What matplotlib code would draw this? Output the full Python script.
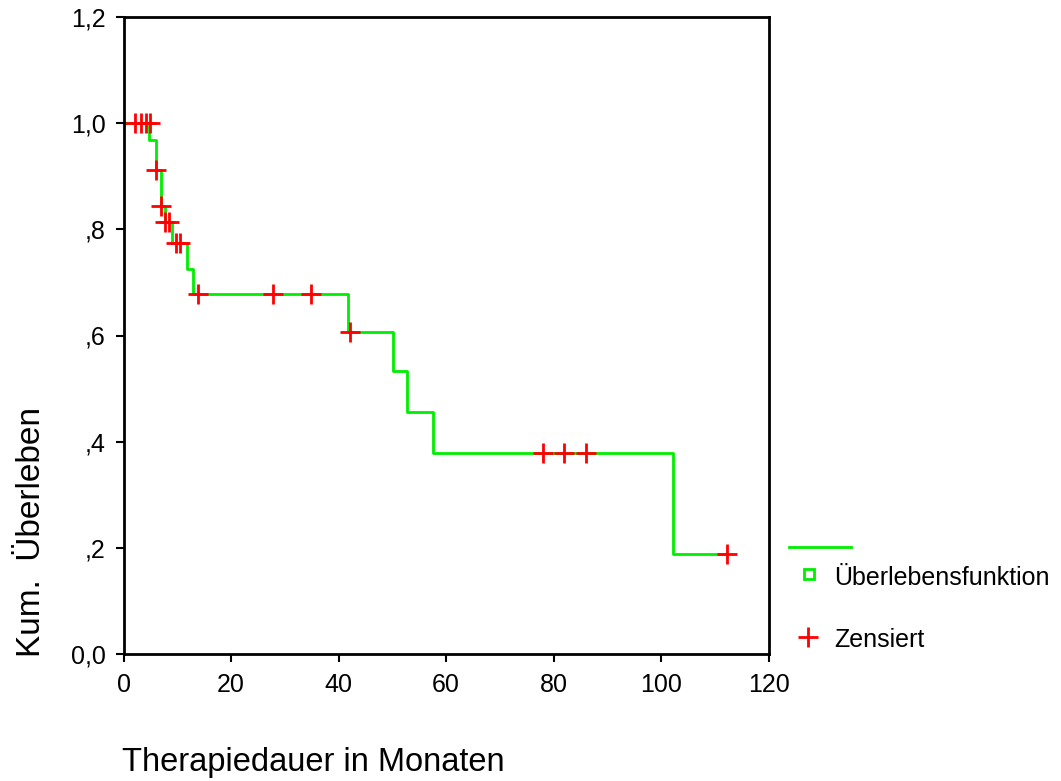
import matplotlib
matplotlib.use("Agg")
from matplotlib import pyplot as plt
from matplotlib.lines import Line2D

plt.rcParams["font.family"] = ["Liberation Sans", "DejaVu Sans"]

# Kaplan-Meier step function (time in months, cumulative survival)
step_times = [0, 4.7, 6.0, 6.9, 7.8, 9.0, 11.8, 13.0, 41.8, 50.2, 52.8, 57.6, 102.2, 112.2]
step_surv = [1.0, 0.969, 0.911, 0.844, 0.814, 0.775, 0.726, 0.679, 0.607, 0.534, 0.456, 0.379, 0.188, 0.188]

# censored observations
cens_times = [2.1, 3.2, 4.1, 5.0, 6.0, 6.9, 7.8, 8.4, 9.8, 10.6, 13.9, 27.8, 34.9, 42.2, 78.0, 82.0, 86.0, 112.2]
cens_surv = [1.0, 1.0, 1.0, 1.0, 0.911, 0.844, 0.814, 0.814, 0.775, 0.775, 0.679, 0.679, 0.679, 0.607,
             0.379, 0.379, 0.379, 0.188]

x_ticks = [0, 20, 40, 60, 80, 100, 120]
y_ticks = [0.0, 0.2, 0.4, 0.6, 0.8, 1.0, 1.2]
y_labels = ["0,0", ",2", ",4", ",6", ",8", "1,0", "1,2"]

W, H = 1061, 781
fig = plt.figure(figsize=(W / 100, H / 100), dpi=100)
ax = fig.add_axes([123.5 / W, 1 - 654 / H, (768.5 - 123.5) / W, (654 - 17) / H])

green = "#00ee00"
red = "#ff0000"

ax.plot(step_times, step_surv, drawstyle="steps-post", color=green, lw=2)
ax.plot(cens_times, cens_surv, ls="none", marker="+", ms=15, mew=2, color=red)

ax.set_xlim(0, 120)
ax.set_ylim(0, 1.2)
ax.set_xticks(x_ticks)
ax.set_xticklabels([str(t) for t in x_ticks])
ax.set_yticks(y_ticks)
ax.set_yticklabels(y_labels)
ax.tick_params(direction="out", length=6, width=1.5, labelsize=18)
ax.tick_params(axis="x", pad=8)
ax.tick_params(axis="y", pad=7)
for s in ax.spines.values():
    s.set_linewidth(2)

fig.text(313 / W, 1 - 762 / H, "Therapiedauer in Monaten", fontsize=23.5, ha="center", va="center")
fig.text(32 / W, 1 - 532 / H, "Kum.  Überleben", fontsize=24, rotation=90, ha="center", va="center")

# legend
fig.add_artist(Line2D([789 / W, 851 / W], [1 - 547 / H, 1 - 547 / H], color=green, lw=2,
                      transform=fig.transFigure))
fig.add_artist(Line2D([808.5 / W], [1 - 573.5 / H], ls="none", marker="s", ms=7, mew=2,
                      mec=green, mfc="white", transform=fig.transFigure))
fig.add_artist(Line2D([808 / W], [1 - 637 / H], ls="none", marker="+", ms=15, mew=2,
                      color=red, transform=fig.transFigure))
fig.text(834 / W, 1 - 578 / H, "Überlebensfunktion", fontsize=18, va="center")
fig.text(834 / W, 1 - 640 / H, "Zensiert", fontsize=18, va="center")

fig.savefig("out.png", dpi=100)
